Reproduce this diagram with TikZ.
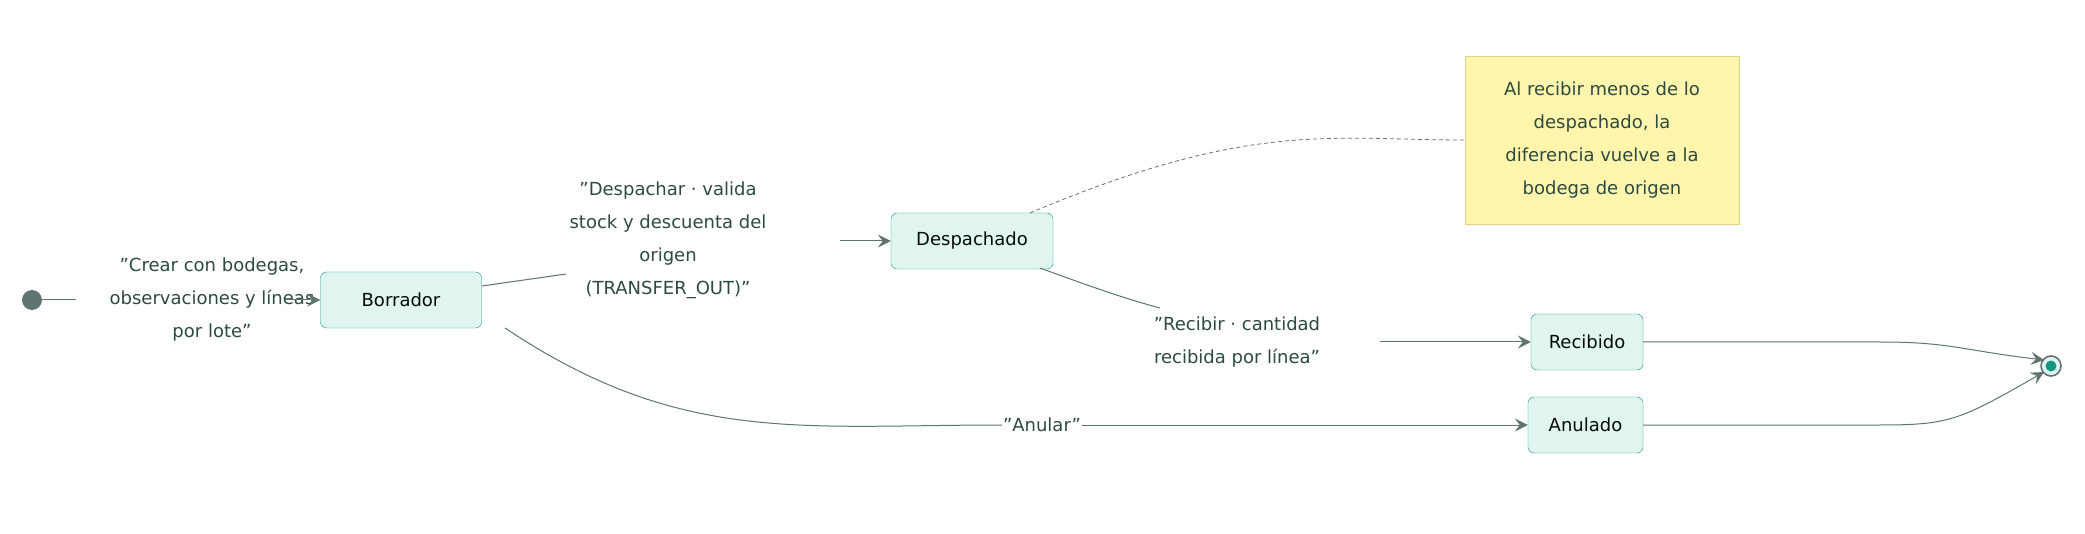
\documentclass[tikz,border=0pt]{standalone}
\usepackage{fontspec}
\setmainfont[Ligatures=NoCommon]{DejaVu Sans}
\usetikzlibrary{arrows.meta}
\newcommand\qq{\symbol{34}}
\definecolor{edge}{HTML}{5F7470}
\definecolor{lab}{HTML}{2D4A40}
\definecolor{nfill}{HTML}{E0F5F0}
\definecolor{nstroke}{HTML}{14967F}
\definecolor{notef}{HTML}{FFF5AD}
\definecolor{notes}{HTML}{E3D27F}
\begin{document}
\begin{tikzpicture}[x=1pt,y=-1pt,
  every node/.style={font=\fontsize{18}{33}\selectfont},
  st/.style={draw=nstroke,fill=nfill,rounded corners=6pt,minimum height=56pt,inner sep=0pt,text=black!85!lab},
  lbl/.style={text=lab,align=center,inner sep=2pt},
  ed/.style={draw=edge,line width=1pt},
  arr/.style={ed,-{Stealth[length=13pt,width=13pt,inset=5pt]}}]
\useasboundingbox (0,0) rectangle (2085,534);
\fill[edge] (32,300) circle (10) coordinate (start);
\node[lbl] (l1) at (212,300) {\qq Crear con bodegas,\\observaciones y líneas\\por lote\qq};
\node[st,minimum width=161pt] (bor) at (401,300) {Borrador};
\node[lbl] (l2) at (668,240) {\qq Despachar · valida\\stock y descuenta del\\origen\\(TRANSFER\_OUT)\qq};
\node[st,minimum width=162pt] (des) at (972,241) {Despachado};
\node[draw=notes,fill=notef,minimum width=274pt,minimum height=168pt,text=lab,align=center] (note) at (1602,140) {Al recibir menos de lo\\despachado, la\\diferencia vuelve a la\\bodega de origen};
\node[lbl] (l3) at (1237,342) {\qq Recibir · cantidad\\recibida por línea\qq};
\node[st,minimum width=112pt] (rec) at (1587,342) {Recibido};
\node[st,minimum width=115pt] (anu) at (1585.5,425) {Anulado};
\node[lbl,inner sep=1pt] (l4) at (1042,425) {\qq Anular\qq};
\draw[edge,line width=1.6pt,fill=nfill] (2051,366) circle (10);
\fill[nstroke] (2051,366) circle (5.5);
\coordinate (end) at (2051,366);

\draw[ed] (start) -- (76,300);
\draw[arr] (286,300) -- (bor.west);
\draw[ed] (482,286) -- (566,274);
\draw[arr] (840,241) -- (des.west);
\draw[ed,dashed,line width=0.8pt,dash pattern=on 4pt off 3pt] (1030,213) .. controls (1250,120) and (1330,140) .. (note.west|-0,140);
\draw[ed] (1040,268) .. controls (1100,290) and (1130,300) .. (1160,308);
\draw[arr] (1380,342) -- (rec.west);
\draw[ed] (505,328) .. controls (680,445) and (800,425) .. (l4.west);
\draw[arr] (l4.east) -- (anu.west);
\draw[arr] (rec.east) -- (1880,342) .. controls (1950,342) and (1960,350) .. (2044,360);
\draw[arr] (anu.east) -- (1880,425) .. controls (1950,425) and (1960,420) .. (2044,372);
\end{tikzpicture}
\end{document}
